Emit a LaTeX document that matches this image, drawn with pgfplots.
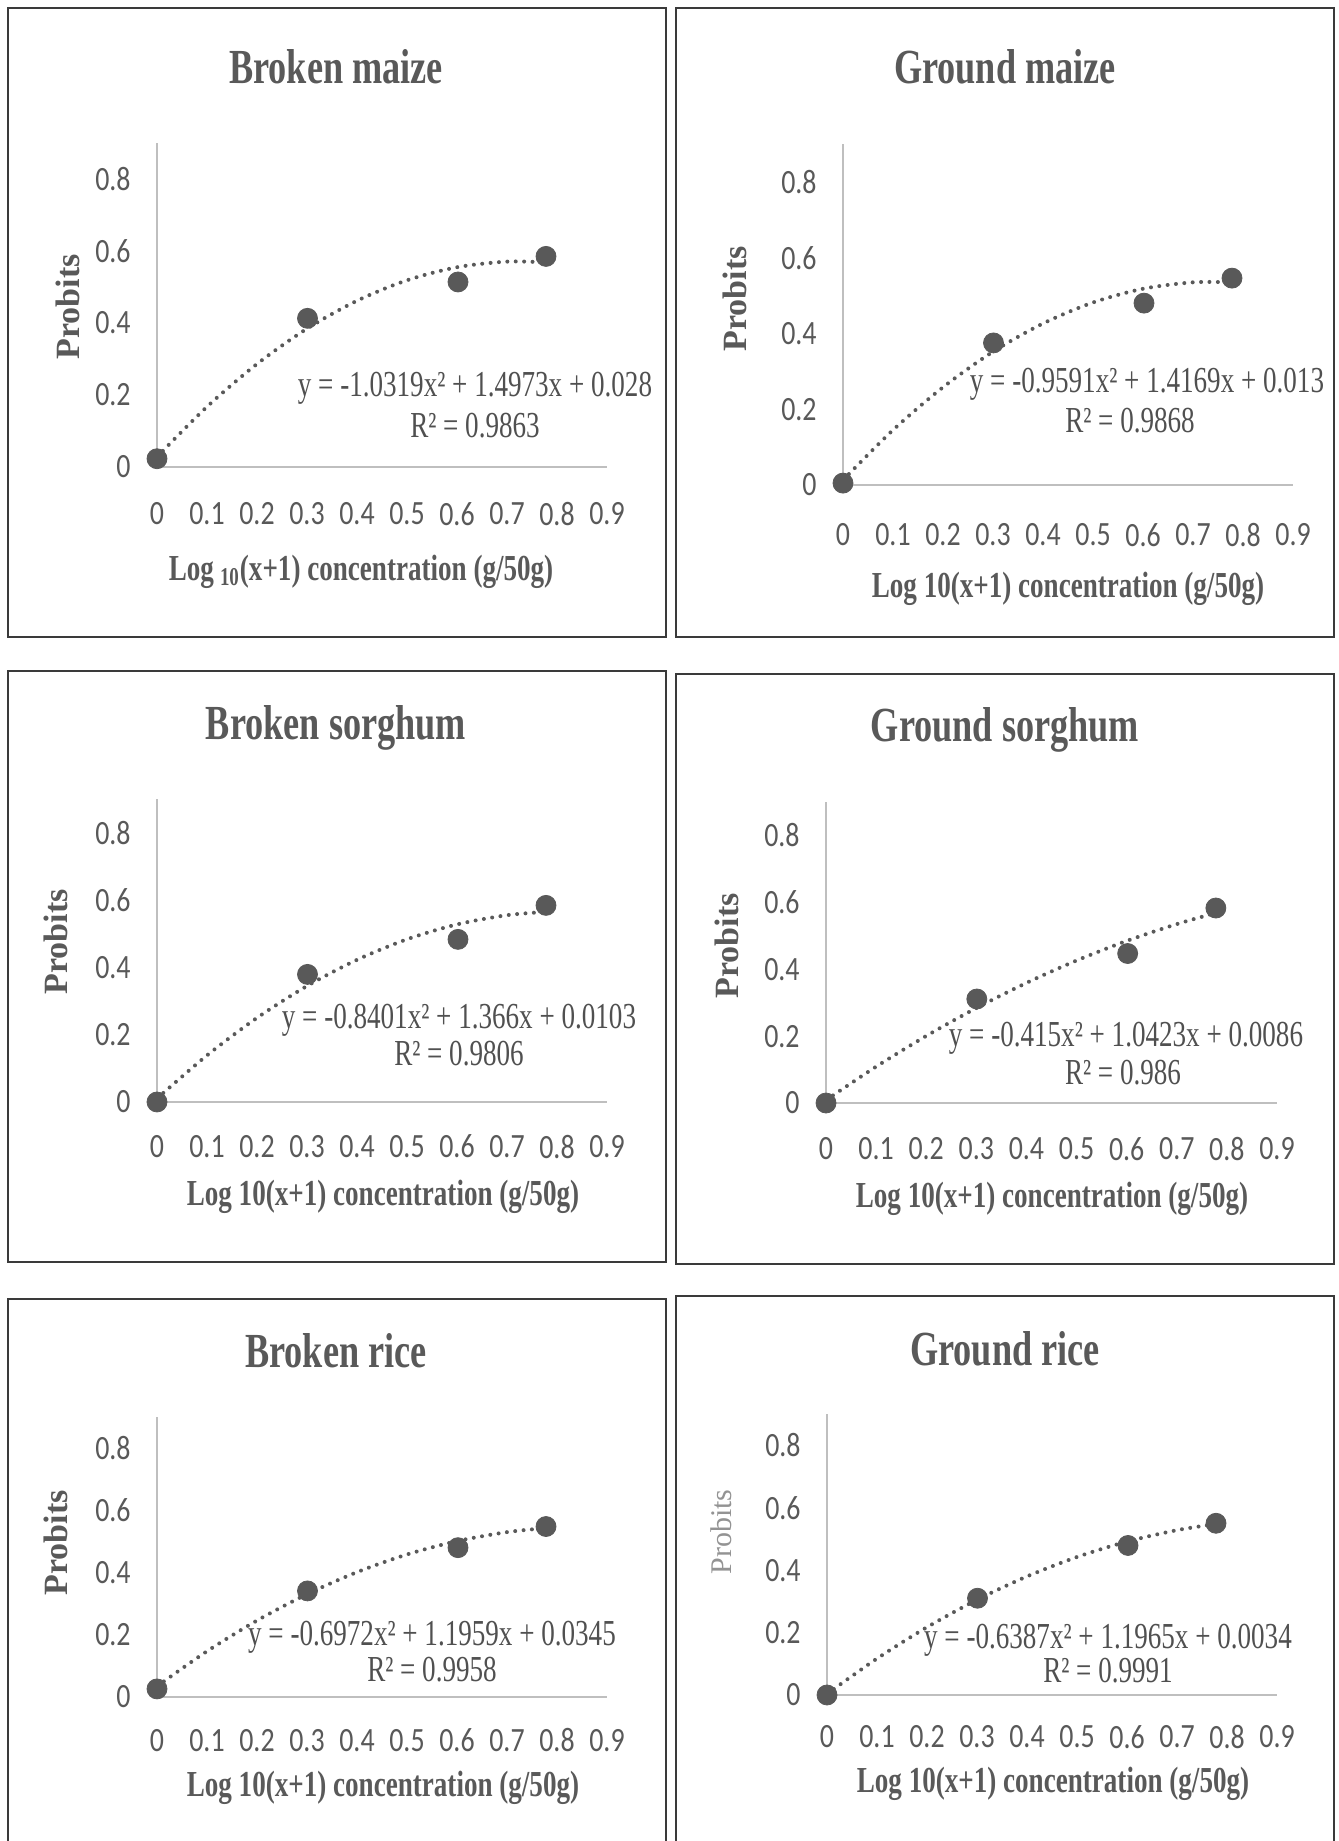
\documentclass[border=0pt]{standalone}
\usepackage{fontspec}
\setmainfont{Liberation Serif}[FakeStretch=0.74]
\newfontfamily\plainserif{Liberation Serif}
\newfontfamily\tickfont{Carlito}[FakeStretch=0.82]
\usepackage{pgfplots}
\pgfplotsset{compat=1.18}
\definecolor{txtgrey}{HTML}{595959}
\definecolor{axgrey}{HTML}{BFBFBF}
\definecolor{ptgrey}{HTML}{595959}
\definecolor{framegrey}{HTML}{3A3A3A}
\definecolor{eqgrey}{HTML}{505050}
\pgfplotsset{
  panel/.style={
    scale only axis, anchor=north west, clip=false,
    xmin=0, xmax=0.9, ymin=0, ymax=0.9,
    axis lines*=left,
    axis line style={draw=axgrey, line width=1.2pt, -},
    xtick={0,0.1,0.2,0.3,0.4,0.5,0.6,0.7,0.8,0.9},
    xticklabels={0,0.1,0.2,0.3,0.4,0.5,0.6,0.7,0.8,0.9},
    ytick={0,0.2,0.4,0.6,0.8},
    yticklabels={0,0.2,0.4,0.6,0.8},
    major tick length=0pt,
    tick label style={font=\tickfont\fontsize{17}{17}\selectfont, text=txtgrey},
    xticklabel style={anchor=center},
    yticklabel style={anchor=east, inner sep=0pt, xshift=-13pt},
  },
  trend/.style={ptgrey, line width=2pt, dash pattern=on 0pt off 4.2pt, line cap=round, smooth},
  pts/.style={only marks, mark=*, mark size=5pt, color=ptgrey, mark options={fill=ptgrey, draw=ptgrey}},
}
\newcommand{\ttl}{\color{txtgrey}\fontsize{24.5}{28}\selectfont\bfseries}
\newcommand{\xl}{\color{txtgrey}\fontsize{18.3}{20}\selectfont\bfseries}
\newcommand{\yl}{\color{txtgrey}\plainserif\fontsize{17}{17}\selectfont\bfseries}
\newcommand{\eq}{\color{eqgrey}\fontsize{18.3}{20}\selectfont}
\begin{document}
\begin{tikzpicture}
\useasboundingbox (0,0) rectangle (669pt,-920.5pt);
\begin{scope}[x=0.5pt,y=-0.5pt]
  % frames
  \draw[framegrey, line width=0.8pt] (8,8) rectangle (666,637);
  \draw[framegrey, line width=0.8pt] (676,8) rectangle (1334,637);
  \draw[framegrey, line width=0.8pt] (8,671) rectangle (666,1262);
  \draw[framegrey, line width=0.8pt] (676,674) rectangle (1334,1264);
  \draw[framegrey, line width=0.8pt] (8,1845) -- (8,1299) -- (666,1299) -- (666,1845);
  \draw[framegrey, line width=0.8pt] (676,1845) -- (676,1296) -- (1334,1296) -- (1334,1845);
  % titles
  \node[font=\ttl] at (336,67) {Broken maize};
  \node[font=\ttl] at (1005,67) {Ground maize};
  \node[font=\ttl] at (336,728) {Broken sorghum};
  \node[font=\ttl] at (1005,730) {Ground sorghum};
  \node[font=\ttl] at (336,1351) {Broken rice};
  \node[font=\ttl] at (1005,1349) {Ground rice};
  % y labels
  \node[font=\yl, rotate=90] at (68,307) {Probits};
  \node[font=\yl, rotate=90] at (735,299) {Probits};
  \node[font=\yl, rotate=90] at (56,942) {Probits};
  \node[font=\yl, rotate=90] at (727,946) {Probits};
  \node[font=\yl, rotate=90] at (56,1543) {Probits};
  \node[rotate=90, text=gray!85, font=\plainserif\fontsize{15}{15}\selectfont] at (721,1532) {Probits};
  % x labels
  \node[font=\xl] at (361,572) {Log\,\textsubscript{10}(x+1) concentration (g/50g)};
  \node[font=\xl] at (1068,589) {Log 10(x+1) concentration (g/50g)};
  \node[font=\xl] at (383,1197) {Log 10(x+1) concentration (g/50g)};
  \node[font=\xl] at (1052,1199) {Log 10(x+1) concentration (g/50g)};
  \node[font=\xl] at (383,1788) {Log 10(x+1) concentration (g/50g)};
  \node[font=\xl] at (1053,1784) {Log 10(x+1) concentration (g/50g)};
\end{scope}

% Panel 1: Broken maize
\begin{axis}[panel, at={(78.5pt,-71.5pt)}, width=225pt, height=162pt, xticklabel style={yshift=-23.5pt}]
\addplot[trend] coordinates {(0,0.028) (0.1,0.1674) (0.2,0.2862) (0.3,0.3843) (0.4,0.4618) (0.5,0.5187) (0.6,0.5549) (0.7,0.5705) (0.778,0.5683)};
\addplot[pts] coordinates {(0,0.023) (0.301,0.413) (0.602,0.514) (0.778,0.585)};
\end{axis}
% Panel 2: Ground maize
\begin{axis}[panel, at={(421.5pt,-72pt)}, width=225pt, height=170.5pt, xticklabel style={yshift=-25pt}]
\addplot[trend] coordinates {(0,0.013) (0.1,0.1451) (0.2,0.2580) (0.3,0.3518) (0.4,0.4263) (0.5,0.4817) (0.6,0.5179) (0.7,0.5349) (0.778,0.5348)};
\addplot[pts] coordinates {(0,0.005) (0.301,0.375) (0.602,0.48) (0.778,0.546)};
\end{axis}
% Panel 3: Broken sorghum
\begin{axis}[panel, at={(78.5pt,-399.5pt)}, width=225pt, height=151.5pt, xticklabel style={yshift=-22.3pt}]
\addplot[trend] coordinates {(0,0.0103) (0.1,0.1385) (0.2,0.2499) (0.3,0.3445) (0.4,0.4223) (0.5,0.4833) (0.6,0.5275) (0.7,0.5549) (0.778,0.5645)};
\addplot[pts] coordinates {(0,0.0) (0.301,0.379) (0.602,0.483) (0.778,0.584)};
\end{axis}
% Panel 4: Ground sorghum
\begin{axis}[panel, at={(413pt,-401pt)}, width=225.5pt, height=150.5pt, xticklabel style={yshift=-22.9pt}]
\addplot[trend] coordinates {(0,0.0086) (0.1,0.1087) (0.2,0.2005) (0.3,0.2839) (0.4,0.3591) (0.5,0.4260) (0.6,0.4846) (0.7,0.5349) (0.778,0.5683)};
\addplot[pts] coordinates {(0,0.0) (0.301,0.311) (0.602,0.447) (0.778,0.583)};
\end{axis}
% Panel 5: Broken rice
\begin{axis}[panel, at={(78.5pt,-708.5pt)}, width=225pt, height=140pt, xticklabel style={yshift=-21.7pt}]
\addplot[trend] coordinates {(0,0.0345) (0.1,0.1471) (0.2,0.2458) (0.3,0.3305) (0.4,0.4013) (0.5,0.4582) (0.6,0.5010) (0.7,0.5300) (0.778,0.5429)};
\addplot[pts] coordinates {(0,0.026) (0.301,0.341) (0.602,0.48) (0.778,0.548)};
\end{axis}
% Panel 6: Ground rice
\begin{axis}[panel, at={(413.5pt,-707pt)}, width=225pt, height=140.5pt, xticklabel style={yshift=-21pt}]
\addplot[trend] coordinates {(0,0.0034) (0.1,0.1167) (0.2,0.2172) (0.3,0.3049) (0.4,0.3798) (0.5,0.4420) (0.6,0.4914) (0.7,0.5280) (0.778,0.5477)};
\addplot[pts] coordinates {(0,0.0) (0.301,0.31) (0.602,0.479) (0.778,0.55)};
\end{axis}

\begin{scope}[x=0.5pt,y=-0.5pt]
  \node[font=\eq] at (475,388) {y = -1.0319x² + 1.4973x + 0.028};
  \node[font=\eq] at (475,426) {R² = 0.9863};
  \node[font=\eq] at (1147,384) {y = -0.9591x² + 1.4169x + 0.013};
  \node[font=\eq] at (1130,421) {R² = 0.9868};
  \node[font=\eq] at (459,1020) {y = -0.8401x² + 1.366x + 0.0103};
  \node[font=\eq] at (459,1054) {R² = 0.9806};
  \node[font=\eq] at (1126,1038) {y = -0.415x² + 1.0423x + 0.0086};
  \node[font=\eq] at (1123,1073) {R² = 0.986};
  \node[font=\eq] at (432,1637) {y = -0.6972x² + 1.1959x + 0.0345};
  \node[font=\eq] at (432,1670) {R² = 0.9958};
  \node[font=\eq] at (1108,1640) {y = -0.6387x² + 1.1965x + 0.0034};
  \node[font=\eq] at (1108,1671) {R² = 0.9991};
\end{scope}
\end{tikzpicture}
\end{document}
